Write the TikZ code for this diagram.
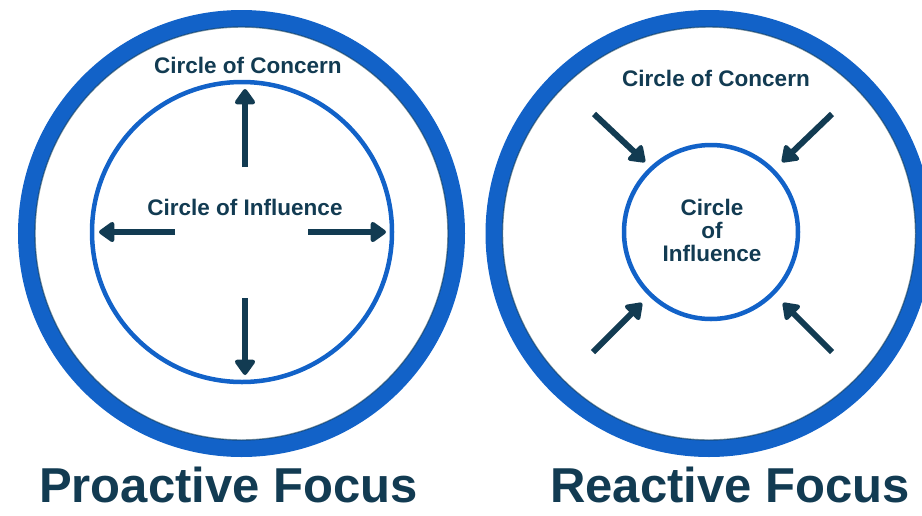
\documentclass[tikz,border=0pt]{standalone}
\usepackage{fontspec}
\setmainfont{Liberation Sans}
\usetikzlibrary{arrows.meta}
\definecolor{ringblue}{HTML}{1262C8}
\definecolor{navy}{HTML}{123B52}
\begin{document}
\begin{tikzpicture}[x=1pt,y=-1pt,
  ring/.style={circle, draw=ringblue, line width=17pt, inner sep=0pt, outer sep=0pt},
  ringedge/.style={circle, draw=navy, draw opacity=0.55, line width=1.4pt, inner sep=0pt, outer sep=0pt},
  inring/.style={circle, draw=ringblue, line width=4.5pt, inner sep=0pt, outer sep=0pt},
  lbl/.style={text=navy, font=\fontsize{22.5}{23}\selectfont\bfseries, align=center, inner sep=0pt},
  title/.style={text=navy, font=\fontsize{49}{49}\selectfont\bfseries, inner sep=0pt, anchor=base},
  arr/.style={draw=navy, line width=6pt, -{Triangle[length=17pt, width=23pt, round]}}
]
\useasboundingbox (0,0) rectangle (922,515);
\clip (0,0) rectangle (922,515);
\fill[white] (0,0) rectangle (922,515);

% left diagram
\node[ring, minimum size=430pt] (outerL) at (241.5,233.5) {};
\node[ringedge, minimum size=413pt] (edgeL) at (241.5,233.5) {};
\node[inring, minimum size=300pt] (innerL) at (242,232) {};
\node[lbl] (concernL) at (248,65) {Circle of Concern};
\node[lbl] (influenceL) at (245,207) {Circle of Influence};

\coordinate (uT) at (245,167); \coordinate (uH) at (245,89);
\coordinate (dT) at (245,298); \coordinate (dH) at (245,375);
\coordinate (lT) at (175,232); \coordinate (lH) at (99,232);
\coordinate (rT) at (308,232); \coordinate (rH) at (386,232);
\draw[arr] (uT) -- (uH);
\draw[arr] (dT) -- (dH);
\draw[arr] (lT) -- (lH);
\draw[arr] (rT) -- (rH);

% right diagram
\node[ring, minimum size=430pt] (outerR) at (709,233.5) {};
\node[ringedge, minimum size=413pt] (edgeR) at (709,233.5) {};
\node[inring, minimum size=174pt] (innerR) at (711,232) {};
\node[lbl] (concernR) at (716,78) {Circle of Concern};
\node[lbl] (influenceR) at (712,230) {Circle\\of\\Influence};

\coordinate (aT) at (594,114); \coordinate (aH) at (645,162);
\coordinate (bT) at (832,114); \coordinate (bH) at (782,162);
\coordinate (cT) at (593,352); \coordinate (cH) at (642,303);
\coordinate (dT2) at (832,352); \coordinate (dH2) at (783,303);
\draw[arr] (aT) -- (aH);
\draw[arr] (bT) -- (bH);
\draw[arr] (cT) -- (cH);
\draw[arr] (dT2) -- (dH2);

% titles
\node[title] (proactive) at (228.5,502) {Proactive Focus};
\node[title] (reactive) at (730,502) {Reactive Focus};
\end{tikzpicture}
\end{document}
